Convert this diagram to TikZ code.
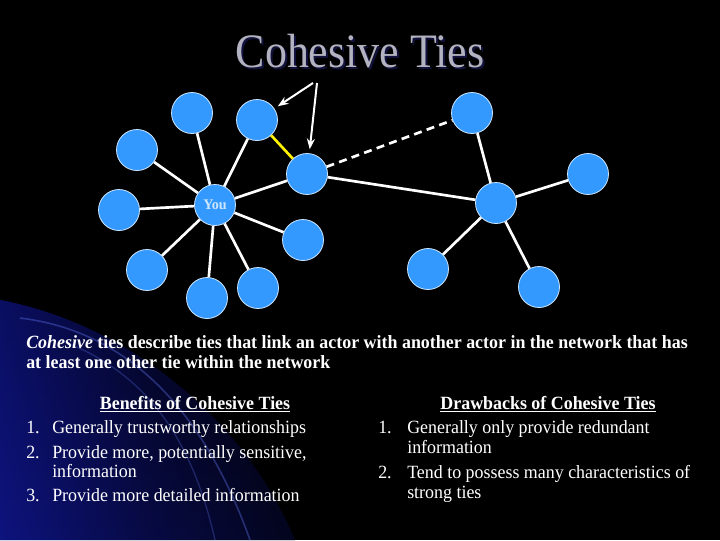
\documentclass[tikz,border=0pt]{standalone}
\usepackage{fontspec}
\setmainfont{Liberation Serif}[FakeStretch=0.96]
\newfontfamily\titlefont{Liberation Serif}[FakeStretch=0.915]
\usetikzlibrary{arrows.meta}
\definecolor{nodeblue}{RGB}{51,153,255}
\definecolor{rimcol}{RGB}{205,230,255}
\definecolor{titlegray}{RGB}{178,178,192}
\definecolor{titleshadow}{RGB}{18,18,62}
\definecolor{swoosh}{RGB}{22,30,195}
\definecolor{arcblue}{RGB}{90,110,230}
\begin{document}
\begin{tikzpicture}[x=0.75pt,y=-0.75pt,
  actor/.style={circle, fill=nodeblue, draw=rimcol, line width=0.6pt, minimum size=30.75pt, inner sep=0pt},
  tie/.style={draw=white, line width=2pt},
  weaktie/.style={draw=white, line width=2pt, dash pattern=on 6pt off 4pt},
  yellowtie/.style={draw=yellow, line width=2pt},
  pointer/.style={draw=white, line width=1.5pt, -{Stealth[length=8pt,width=6pt]}, shorten >=3pt},
  body/.style={anchor=base west, inner sep=0pt, text=white, font=\fontsize{14}{16}\selectfont},
  heading/.style={anchor=base, inner sep=0pt, text=white, font=\fontsize{14}{16}\selectfont\bfseries}]
\fill[black] (0,0) rectangle (720,540);
\useasboundingbox (0,0) rectangle (720,540);
% background swoosh
\begin{scope}
  \clip (0,300) .. controls (130,325) and (245,420) .. (295,540) -- (0,540) -- cycle;
  \shade[left color=swoosh, right color=black, middle color=swoosh!40!black] (0,300) rectangle (295,540);
  \shade[top color=black, bottom color=swoosh!30!black, opacity=0.5] (0,300) rectangle (295,540);
\end{scope}
\draw[arcblue, opacity=0.4, line width=1.2pt] (20,318) .. controls (120,330) and (200,400) .. (250,540);
\draw[arcblue, opacity=0.3, line width=1pt] (60,340) .. controls (140,370) and (190,430) .. (215,540);
% title
\node[anchor=base, inner sep=0pt, text=titleshadow, font=\titlefont\fontsize{36}{40}\selectfont] (titleshadow) at (362,69) {Cohesive Ties};
\node[anchor=base, inner sep=0pt, text=titlegray, font=\titlefont\fontsize{36}{40}\selectfont] (title) at (360,67) {Cohesive Ties};
% actors
\node[actor] (a) at (192,113) {};
\node[actor] (b) at (257,120) {};
\node[actor] (c) at (137,150) {};
\node[actor] (d) at (119,210) {};
\node[actor, text=rimcol, font=\fontsize{11}{12}\selectfont\bfseries] (you) at (215,205) {You};
\node[actor] (e) at (307,174) {};
\node[actor] (f) at (303,240) {};
\node[actor] (g) at (147,270) {};
\node[actor] (h) at (207,298) {};
\node[actor] (i) at (258,288) {};
\node[actor] (j) at (472,113) {};
\node[actor] (k) at (496,203) {};
\node[actor] (l) at (588,174) {};
\node[actor] (m) at (428,269) {};
\node[actor] (n) at (539,287) {};
% ties
\foreach \t in {a,b,c,d,e,f,g,h,i} \draw[tie] (you) -- (\t);
\draw[tie] (e) -- (k);
\foreach \t in {j,l,m,n} \draw[tie] (k) -- (\t);
\draw[weaktie] (e) -- (j);
\draw[yellowtie] (b) -- (e);
% pointers
\coordinate (apexl) at (313,83);
\coordinate (apexr) at (317,83);
\draw[pointer] (apexl) -- (b);
\draw[pointer] (apexr) -- (e);
% text
\node[body] (def1) at (26,348) {\bfseries\itshape Cohesive\/\upshape\ ties describe ties that link an actor with another actor in the network that has};
\node[body] (def2) at (26,368) {\bfseries at least one other tie within the network};
\node[heading] (benh) at (195,409) {\underline{Benefits of Cohesive Ties}};
\node[body] (b1n) at (26,433) {1.};
\node[body] (b1) at (52,433) {Generally trustworthy relationships};
\node[body] (b2n) at (26,458) {2.};
\node[body] (b2) at (52,458) {Provide more, potentially sensitive,};
\node[body] (b2b) at (52,477) {information};
\node[body] (b3n) at (26,501) {3.};
\node[body] (b3) at (52,501) {Provide more detailed information};
\node[heading] (drh) at (548,409) {\underline{Drawbacks of Cohesive Ties}};
\node[body] (d1n) at (378,433) {1.};
\node[body] (d1) at (407,433) {Generally only provide redundant};
\node[body] (d1b) at (407,453) {information};
\node[body] (d2n) at (378,478) {2.};
\node[body] (d2) at (407,478) {Tend to possess many characteristics of};
\node[body] (d2b) at (407,498) {strong ties};
\end{tikzpicture}
\end{document}
